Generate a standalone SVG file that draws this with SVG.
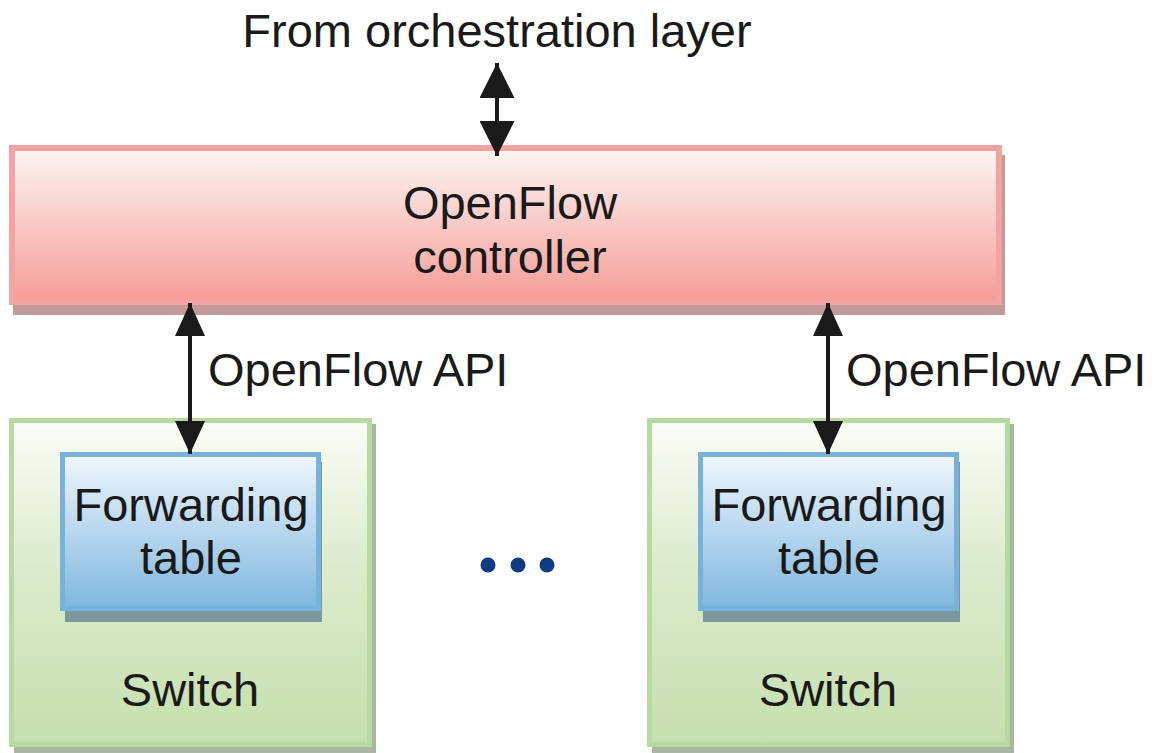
<svg xmlns="http://www.w3.org/2000/svg" width="1160" height="753" viewBox="0 0 1160 753">
  <style>
    text { font-family: "Liberation Sans", Arial, sans-serif; font-size: 47px; fill: #1a1a1a; }
    .mid { text-anchor: middle; }
    .ctrl { fill: url(#gCtrl); stroke: #f4a2a2; stroke-width: 6; }
    .ctrlShadow { fill: #c29a9a; }
    .sw { fill: url(#gSwitch); stroke: #b9d9a2; stroke-width: 5; }
    .swShadow { fill: #a9b7a2; }
    .ft { fill: url(#gTable); stroke: #78b2da; stroke-width: 5; }
    .ftShadow { fill: #7a979c; }
    .conn { stroke: #1a1a1a; stroke-width: 4; fill: none; }
    .dot { fill: #0e3b82; }
  </style>
  <defs>
    <linearGradient id="gCtrl" x1="0" y1="0" x2="0" y2="1">
      <stop offset="0" stop-color="#fdf6f3"/>
      <stop offset="1" stop-color="#f59c98"/>
    </linearGradient>
    <linearGradient id="gSwitch" x1="0" y1="0" x2="0" y2="1">
      <stop offset="0" stop-color="#fbfdf8"/>
      <stop offset="0.45" stop-color="#dcebcd"/>
      <stop offset="1" stop-color="#c6dfae"/>
    </linearGradient>
    <linearGradient id="gTable" x1="0" y1="0" x2="0" y2="1">
      <stop offset="0" stop-color="#f0f6fc"/>
      <stop offset="1" stop-color="#7fb7df"/>
    </linearGradient>
    <marker id="headBig" viewBox="0 0 35 35" refX="35" refY="17.5" markerWidth="35" markerHeight="35" markerUnits="userSpaceOnUse" orient="auto-start-reverse">
      <path d="M0,0 L35,17.5 L0,35 Z" fill="#1a1a1a"/>
    </marker>
    <marker id="head" viewBox="0 0 33 30" refX="33" refY="15" markerWidth="33" markerHeight="30" markerUnits="userSpaceOnUse" orient="auto-start-reverse">
      <path d="M0,0 L33,15 L0,30 Z" fill="#1a1a1a"/>
    </marker>
  </defs>

  <!-- label above the controller -->
  <text class="mid" x="497" y="47">From orchestration layer</text>

  <!-- controller -->
  <g id="controller">
    <rect class="ctrlShadow" x="13" y="155" width="992" height="160"/>
    <rect class="ctrl" x="12" y="148" width="987" height="154"/>
    <text class="mid" x="510" y="219">OpenFlow</text>
    <text class="mid" x="510" y="273">controller</text>
  </g>

  <!-- left switch -->
  <g id="switch-left">
    <rect class="swShadow" x="14" y="424" width="362" height="329"/>
    <rect class="sw" x="11.5" y="420.5" width="358" height="324"/>
    <text class="mid" x="190" y="706">Switch</text>
  </g>
  <g id="table-left">
    <rect class="ftShadow" x="65" y="462" width="257" height="160"/>
    <rect class="ft" x="62.5" y="454.5" width="256" height="154"/>
    <text class="mid" x="191" y="521">Forwarding</text>
    <text class="mid" x="191" y="574">table</text>
  </g>

  <!-- right switch -->
  <g id="switch-right">
    <rect class="swShadow" x="652" y="424" width="362" height="329"/>
    <rect class="sw" x="649.5" y="420.5" width="358" height="324"/>
    <text class="mid" x="828" y="706">Switch</text>
  </g>
  <g id="table-right">
    <rect class="ftShadow" x="703" y="462" width="257" height="160"/>
    <rect class="ft" x="700.5" y="454.5" width="256" height="154"/>
    <text class="mid" x="829" y="521">Forwarding</text>
    <text class="mid" x="829" y="574">table</text>
  </g>

  <!-- continuation dots -->
  <g id="ellipsis">
    <circle class="dot" cx="488" cy="565" r="7.5"/>
    <circle class="dot" cx="518" cy="565" r="7.5"/>
    <circle class="dot" cx="547" cy="565" r="7.5"/>
  </g>

  <!-- connectors -->
  <g id="connectors">
    <line class="conn" x1="497" y1="63" x2="497" y2="156" marker-start="url(#headBig)" marker-end="url(#headBig)"/>
    <line class="conn" x1="190" y1="303" x2="190" y2="454" marker-start="url(#head)" marker-end="url(#head)"/>
    <line class="conn" x1="828" y1="303" x2="828" y2="454" marker-start="url(#head)" marker-end="url(#head)"/>
    <text x="208" y="386">OpenFlow API</text>
    <text x="846" y="386">OpenFlow API</text>
  </g>
</svg>
